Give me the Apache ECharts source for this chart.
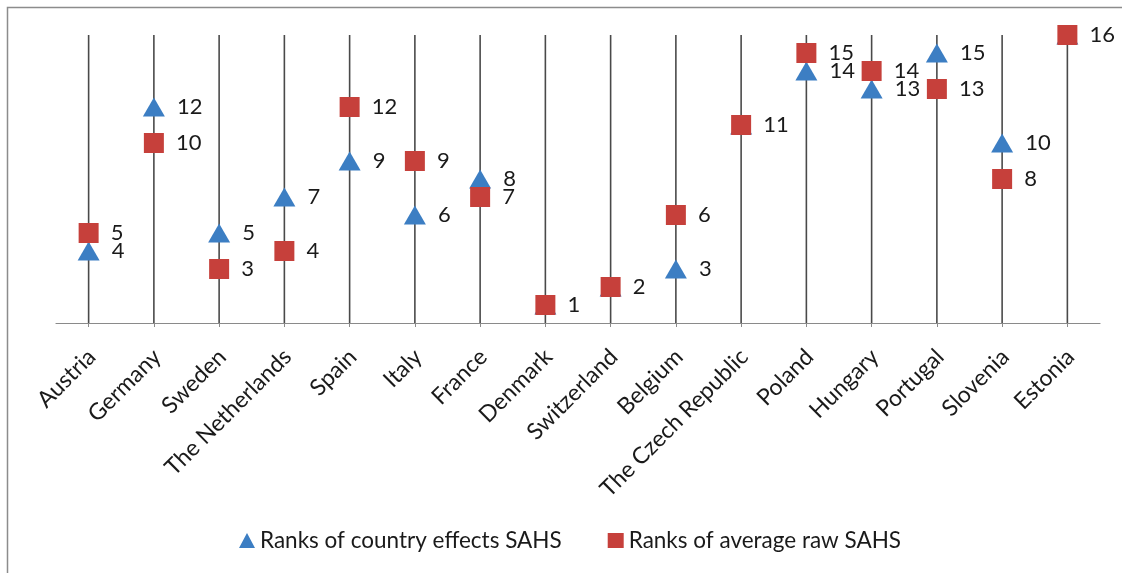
<!DOCTYPE html>
<html>
<head>
<meta charset="utf-8">
<title>Ranks of SAHS by country</title>
<script src="https://cdn.jsdelivr.net/npm/echarts@6/dist/echarts.min.js"></script>
<style>
  html, body { margin: 0; padding: 0; background: #fff; }
  #chart { width: 1122px; height: 573px; }
</style>
</head>
<body>
<div id="chart"></div>
<script>
// Countries along the category axis
const countries = ['Austria', 'Germany', 'Sweden', 'The Netherlands', 'Spain', 'Italy', 'France',
  'Denmark', 'Switzerland', 'Belgium', 'The Czech Republic', 'Poland', 'Hungary', 'Portugal',
  'Slovenia', 'Estonia'];

// Rank series (1 = lowest, 16 = highest)
const countryEffectRanks = [4, 12, 5, 7, 9, 6, 8, 1, 2, 3, 11, 14, 13, 15, 10, 16];
const averageRawRanks    = [5, 10, 3, 4, 12, 9, 7, 1, 2, 6, 11, 15, 14, 13, 8, 16];

// Height of the drop lines: the top rank
const rankMax = 16;
const dropLines = countries.map(() => rankMax);

const FONT = 'Lato, "Open Sans", sans-serif';
const TEXT = '#1a1a1a';
const BLUE = '#3C7EC3';
const RED = '#C6403B';

const chart = echarts.init(document.getElementById('chart'), null, { renderer: 'canvas' });

const labelBase = {
  show: true,
  position: 'right',
  distance: 12,
  color: TEXT,
  fontFamily: FONT,
  fontSize: 22
};

chart.setOption({
  animation: false,
  backgroundColor: '#fff',
  graphic: [{
    type: 'rect',
    silent: true,
    shape: { x: 7.5, y: 7.5, width: 1300, height: 800 },
    style: { fill: 'none', stroke: '#8c8c8c', lineWidth: 1.5 }
  }],
  grid: { left: 56, right: 22, top: 35, bottom: 250, containLabel: false },
  legend: {
    data: [
      { name: 'Ranks of country effects SAHS', icon: 'triangle' },
      { name: 'Ranks of average raw SAHS', icon: 'rect' }
    ],
    top: 524,
    left: 234,
    itemWidth: 16,
    itemHeight: 15,
    itemGap: 46,
    textStyle: { fontFamily: FONT, fontSize: 22.5, color: TEXT }
  },
  xAxis: {
    type: 'category',
    data: countries,
    boundaryGap: true,
    axisLine: { lineStyle: { color: '#8a8a8a', width: 1.2 } },
    axisTick: { show: true, alignWithLabel: true, length: 4, lineStyle: { color: '#8a8a8a' } },
    axisLabel: {
      interval: 0,
      rotate: 45,
      margin: 17,
      verticalAlign: 'top',
      padding: [0, 7, 0, 0],
      color: TEXT,
      fontFamily: FONT,
      fontSize: 23
    },
    splitLine: { show: false }
  },
  yAxis: {
    type: 'value',
    min: 0,
    max: rankMax,
    interval: 1,
    show: false,
    splitLine: { show: false }
  },
  series: [
    {
      name: 'drop lines',
      type: 'bar',
      data: dropLines,
      barWidth: 1.6,
      silent: true,
      itemStyle: { color: '#4a4a4a' },
      z: 1
    },
    {
      name: 'Ranks of country effects SAHS',
      type: 'scatter',
      data: countryEffectRanks,
      symbol: 'triangle',
      symbolSize: [22, 19],
      itemStyle: { color: BLUE, opacity: 1 },
      // a rank equal to the square's is hidden under it, so only one number is written there
      label: Object.assign({}, labelBase, {
        formatter: p => (p.value === averageRawRanks[p.dataIndex] ? '' : String(p.value))
      }),
      z: 3
    },
    {
      name: 'Ranks of average raw SAHS',
      type: 'scatter',
      data: averageRawRanks,
      symbol: 'rect',
      symbolSize: 20,
      itemStyle: { color: RED, opacity: 1 },
      label: Object.assign({}, labelBase, { formatter: p => String(p.value) }),
      z: 4
    }
  ]
});
</script>
</body>
</html>
